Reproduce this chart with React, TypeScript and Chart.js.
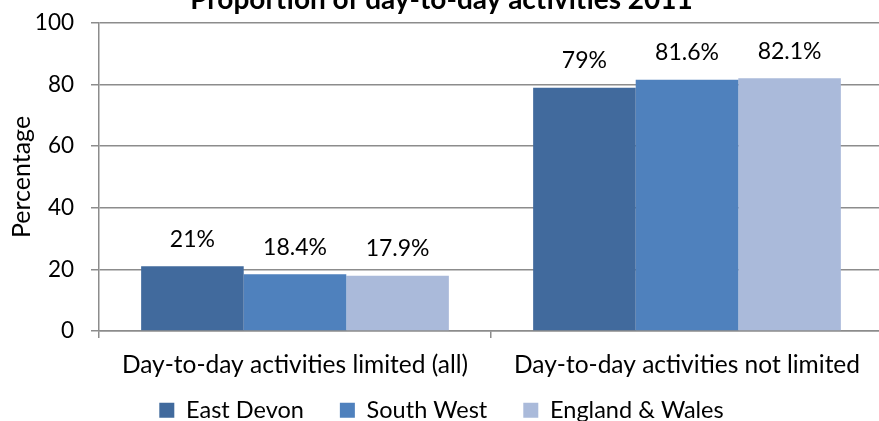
import React, { useEffect, useRef } from "react";
import { Chart, registerables } from "chart.js";

Chart.register(...registerables);

const chartTitle = "Proportion of day-to-day activities 2011";
const categories = ["Day-to-day activities limited (all)", "Day-to-day activities not limited"];
const seriesNames = ["East Devon", "South West", "England & Wales"];
const eastDevon = [21, 79];
const eastDevonLabels = ["21%", "79%"];
const southWest = [18.4, 81.6];
const southWestLabels = ["18.4%", "81.6%"];
const englandWales = [17.9, 82.1];
const englandWalesLabels = ["17.9%", "82.1%"];
const seriesColors = ["#416a9d", "#4f81bd", "#aabada"];
const yTicks = [0, 20, 40, 60, 80, 100];

const FONT = "Lato";
const W = 883;
const H = 449;

const dataLabelPlugin = {
  id: "barValueLabels",
  afterDatasetsDraw(chart: any) {
    const ctx = chart.ctx;
    ctx.save();
    ctx.font = `23px ${FONT}`;
    ctx.fillStyle = "#000";
    ctx.textAlign = "center";
    ctx.textBaseline = "middle";
    chart.data.datasets.forEach((ds: any, di: number) => {
      const meta = chart.getDatasetMeta(di);
      meta.data.forEach((bar: any, i: number) => {
        ctx.fillText(ds.valueLabels[i], bar.x, bar.y - 27);
      });
    });
    ctx.restore();
  },
};

export default function App() {
  const ref = useRef<HTMLCanvasElement>(null);
  useEffect(() => {
    if (!ref.current) return;
    const chart = new Chart(ref.current, {
      type: "bar",
      data: {
        labels: categories,
        datasets: [
          { label: seriesNames[0], data: eastDevon, backgroundColor: seriesColors[0], valueLabels: eastDevonLabels } as any,
          { label: seriesNames[1], data: southWest, backgroundColor: seriesColors[1], valueLabels: southWestLabels } as any,
          { label: seriesNames[2], data: englandWales, backgroundColor: seriesColors[2], valueLabels: englandWalesLabels } as any,
        ],
      },
      options: {
        responsive: false,
        animation: false,
        devicePixelRatio: 1,
        layout: { padding: 0 },
        datasets: { bar: { categoryPercentage: 0.785, barPercentage: 1 } },
        plugins: {
          title: {
            display: true,
            text: chartTitle,
            color: "#000",
            font: { family: FONT, size: 28, weight: "bold" },
            padding: { top: 0, bottom: 6.4 },
          },
          legend: {
            position: "bottom",
            labels: {
              color: "#000",
              font: { family: FONT, size: 23.5 },
              boxWidth: 15,
              boxHeight: 15,
              padding: 36,
            },
          },
          tooltip: { enabled: false },
        },
        scales: {
          x: {
            grid: { display: true, drawOnChartArea: false, drawTicks: true, tickLength: 7, color: "#8c8c8c", lineWidth: 1.5, offset: true },
            border: { display: true, color: "#8c8c8c", width: 1.5 },
            ticks: { color: "#000", font: { family: FONT, size: 24.5 }, padding: 12, maxRotation: 0, autoSkip: false },
            afterFit: (s: any) => {
              s.height = 31.5;
              s._computeLabelArea = () => undefined;
            },
          },
          y: {
            min: 0,
            max: 100,
            afterBuildTicks: (s: any) => { s.ticks = yTicks.map((v) => ({ value: v })); },
            grid: { color: "#8c8c8c", lineWidth: 1.5, tickLength: 8 },
            border: { display: true, color: "#8c8c8c", width: 1.5 },
            ticks: { color: "#000", font: { family: FONT, size: 22.5 }, padding: 17 },
            title: {
              display: true,
              text: "Percentage",
              color: "#000",
              font: { family: FONT, size: 25 },
              padding: { top: 7, bottom: 0 },
            },
            afterFit: (s: any) => { s.width = 99; },
          },
        },
      },
      plugins: [dataLabelPlugin],
    });
    return () => chart.destroy();
  }, []);
  return (
    <div style={{ position: "fixed", left: 0, top: -17, width: W, height: H }}>
      <canvas ref={ref} width={W} height={H} style={{ width: W, height: H, display: "block" }} />
    </div>
  );
}
